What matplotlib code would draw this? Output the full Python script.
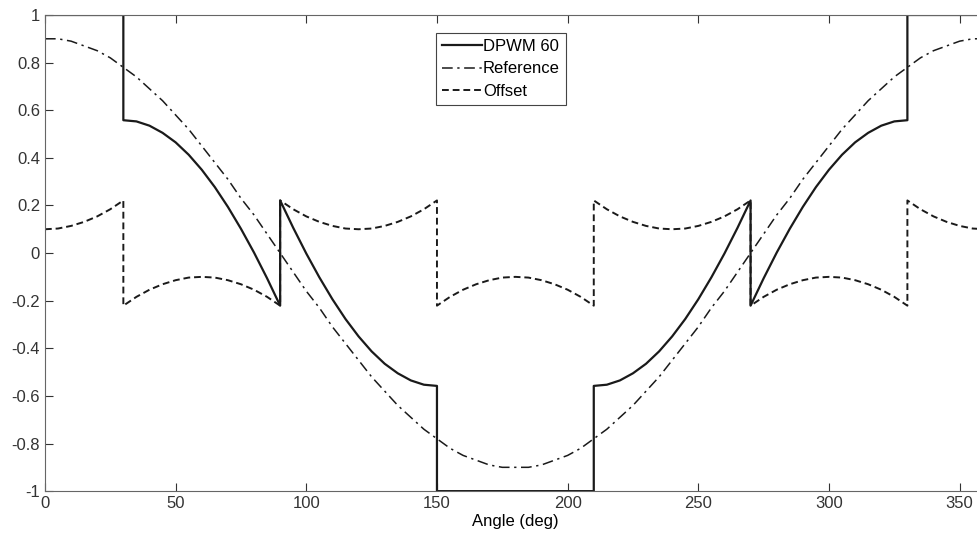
import numpy as np
import matplotlib.pyplot as plt

plt.rcParams['font.family'] = ['Liberation Sans', 'DejaVu Sans']

# reference, read every 5 deg from 0 to 360
ang = np.arange(0, 361, 5)
reference = [0.90, 0.90, 0.89, 0.87, 0.85, 0.82, 0.78, 0.74, 0.69, 0.64, 0.58, 0.52, 0.45,
             0.38, 0.31, 0.23, 0.16, 0.08, 0.00,
             -0.08, -0.16, -0.23, -0.31, -0.38, -0.45, -0.52, -0.58, -0.64, -0.69, -0.74,
             -0.78, -0.82, -0.85, -0.87, -0.89, -0.90, -0.90,
             -0.90, -0.89, -0.87, -0.85, -0.82, -0.78, -0.74, -0.69, -0.64, -0.58, -0.52,
             -0.45, -0.38, -0.31, -0.23, -0.16, -0.08, 0.00,
             0.08, 0.16, 0.23, 0.31, 0.38, 0.45, 0.52, 0.58, 0.64, 0.69, 0.74, 0.78, 0.82,
             0.85, 0.87, 0.89, 0.90, 0.90]

# sector edges where the clamping phase changes
edges = [0, 30, 90, 150, 210, 270, 330, 360]

# offset per sector, 5 deg steps
off_a = [0.100, 0.103, 0.114, 0.131, 0.154, 0.184, 0.221]
off_b = [-0.221, -0.184, -0.154, -0.131, -0.114, -0.103, -0.100, -0.103, -0.114, -0.131,
         -0.154, -0.184, -0.221]
off_c = [0.221, 0.184, 0.154, 0.131, 0.114, 0.103, 0.100, 0.103, 0.114, 0.131, 0.154,
         0.184, 0.221]
off_d = [-0.221, -0.184, -0.154, -0.131, -0.114, -0.103, -0.100, -0.103, -0.114, -0.131,
         -0.154, -0.184, -0.221]
off_e = [0.221, 0.184, 0.154, 0.131, 0.114, 0.103, 0.100, 0.103, 0.114, 0.131, 0.154,
         0.184, 0.221]
off_f = [-0.221, -0.184, -0.154, -0.131, -0.114, -0.103, -0.100, -0.103, -0.114, -0.131,
         -0.154, -0.184, -0.221]
off_g = [0.221, 0.184, 0.154, 0.131, 0.114, 0.103, 0.100]

# DPWM 60 per sector, 5 deg steps
dp_a = [1.0, 1.0, 1.0, 1.0, 1.0, 1.0, 1.0]
dp_b = [0.558, 0.553, 0.535, 0.505, 0.465, 0.413, 0.350, 0.277, 0.194, 0.102, 0.002,
        -0.106, -0.221]
dp_c = [0.221, 0.106, -0.002, -0.102, -0.194, -0.277, -0.350, -0.413, -0.465, -0.505,
        -0.535, -0.553, -0.558]
dp_d = [-1.0] * 13
dp_e = [-0.558, -0.553, -0.535, -0.505, -0.465, -0.413, -0.350, -0.277, -0.194, -0.102,
        -0.002, 0.106, 0.221]
dp_f = [-0.221, -0.106, 0.002, 0.102, 0.194, 0.277, 0.350, 0.413, 0.465, 0.505, 0.535,
        0.553, 0.558]
dp_g = [1.0, 1.0, 1.0, 1.0, 1.0, 1.0, 1.0]


def join(segs):
    xs, ys = [], []
    for i, s in enumerate(segs):
        xs.extend(np.arange(edges[i], edges[i + 1] + 1, 5))
        ys.extend(s)
    return xs, ys


off_x, off_y = join([off_a, off_b, off_c, off_d, off_e, off_f, off_g])
dp_x, dp_y = join([dp_a, dp_b, dp_c, dp_d, dp_e, dp_f, dp_g])

fig = plt.figure(figsize=(9.77, 5.35), dpi=100)
ax = fig.add_axes([0.046, 0.082, 0.963, 0.89])

ax.plot(dp_x, dp_y, '-', color='#1a1a1a', lw=1.6, label='DPWM 60')
ax.plot(ang, reference, color='#1a1a1a', lw=1.1, dashes=(7, 3, 1.5, 3), label='Reference')
ax.plot(off_x, off_y, color='#1a1a1a', lw=1.4, dashes=(3.5, 2), label='Offset')

ax.set_xlim(0, 360)
ax.set_ylim(-1, 1)
ax.set_xticks(np.arange(0, 351, 50))
ax.set_yticks(np.round(np.arange(-1, 1.01, 0.2), 1))
ax.set_yticklabels(['-1', '-0.8', '-0.6', '-0.4', '-0.2', '0', '0.2', '0.4', '0.6', '0.8', '1'])
ax.tick_params(direction='in', top=True, right=True, labelsize=12, length=6, colors='#333333')
for s in ax.spines.values():
    s.set_color('#666666')
ax.set_xlabel('Angle (deg)', fontsize=12, labelpad=2)

leg = ax.legend(loc='upper left', bbox_to_anchor=(0.416, 0.962), fontsize=12, fancybox=False,
                edgecolor='#444444', framealpha=1, handlelength=2.4, handletextpad=0.05,
                borderpad=0.35, labelspacing=0.45, borderaxespad=0)
leg.get_frame().set_linewidth(0.8)

plt.savefig('out.png')
